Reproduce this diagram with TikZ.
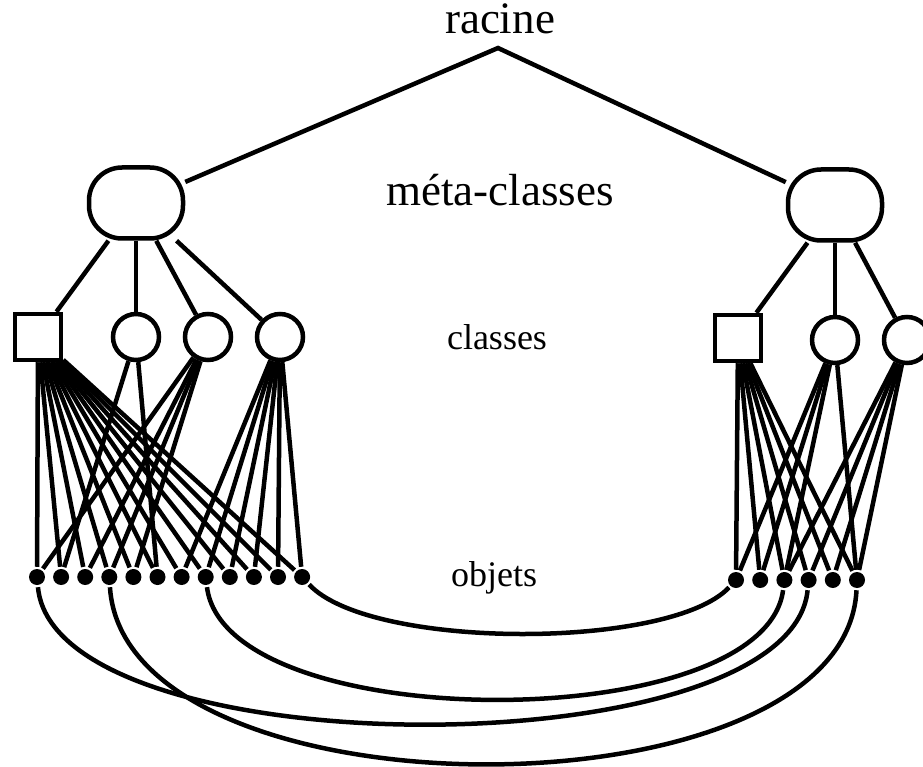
\documentclass[tikz,border=0pt]{standalone}
\usepackage{fontspec}
\setmainfont{Liberation Serif}
\begin{document}
\begin{tikzpicture}[x=1pt,y=-1pt, line width=4.5pt,
  meta/.style={draw, rounded corners=33pt, minimum width=94pt, minimum height=71pt, inner sep=0pt},
  sqclass/.style={draw, minimum size=46pt, inner sep=0pt},
  circclass/.style={draw, circle, minimum size=46pt, inner sep=0pt},
  obj/.style={circle, fill=black, minimum size=16pt, inner sep=0pt},
  lbl/.style={font=\fontsize{36}{40}\selectfont, inner sep=0pt},
  biglbl/.style={font=\fontsize{45}{50}\selectfont, inner sep=0pt}]
\useasboundingbox (0,0) rectangle (923,767);
% labels
\node[biglbl] (racine) at (500,19) {racine};
\node[biglbl] (metalbl) at (500,190) {méta-classes};
\node[lbl] (classlbl) at (497,337) {classes};
\node[lbl] (objlbl) at (494,578) {objets};
% meta-classes
\coordinate (apex) at (498,48);
\node[meta] (lmeta) at (136,203) {};
\node[meta] (rmeta) at (835,205) {};
% classes
\node[sqclass] (lsq) at (38,337) {};
\node[circclass] (lc1) at (136,337) {};
\node[circclass] (lc2) at (208,337) {};
\node[circclass] (lc3) at (280,337) {};
\node[sqclass] (rsq) at (738,338) {};
\node[circclass] (rc1) at (835,340) {};
\node[circclass] (rc2) at (907,340) {};
% objects
\foreach \i in {1,...,12} \node[obj] (lo\i) at ({37+24.1*(\i-1)},577) {};
\foreach \i in {1,...,6} \node[obj] (ro\i) at ({736+24.2*(\i-1)},580) {};
% tree edges
\draw (lmeta) -- (apex) -- (rmeta);
\foreach \c in {lsq,lc1,lc2,lc3} \draw (lmeta) -- (\c);
\foreach \c in {rsq,rc1,rc2} \draw (rmeta) -- (\c);
% class - object edges
\foreach \i in {1,...,12} \draw (lsq) -- (lo\i);
\foreach \i in {2,6} \draw (lc1) -- (lo\i);
\foreach \i in {1,3,4,5} \draw (lc2) -- (lo\i);
\foreach \i in {7,...,12} \draw (lc3) -- (lo\i);
\foreach \i in {1,...,6} \draw (rsq) -- (ro\i);
\foreach \i in {1,2,3,6} \draw (rc1) -- (ro\i);
\foreach \i in {3,4,5,6} \draw (rc2) -- (ro\i);
% object - object curves
\draw (lo12) .. controls (370,650) and (670,650) .. (ro1);
\draw (lo8) .. controls (226,737) and (764,737) .. (ro3);
\draw (lo1) .. controls (55,770) and (790,770) .. (ro4);
\draw (lo4) .. controls (125,823) and (845,823) .. (ro6);
\end{tikzpicture}
\end{document}
